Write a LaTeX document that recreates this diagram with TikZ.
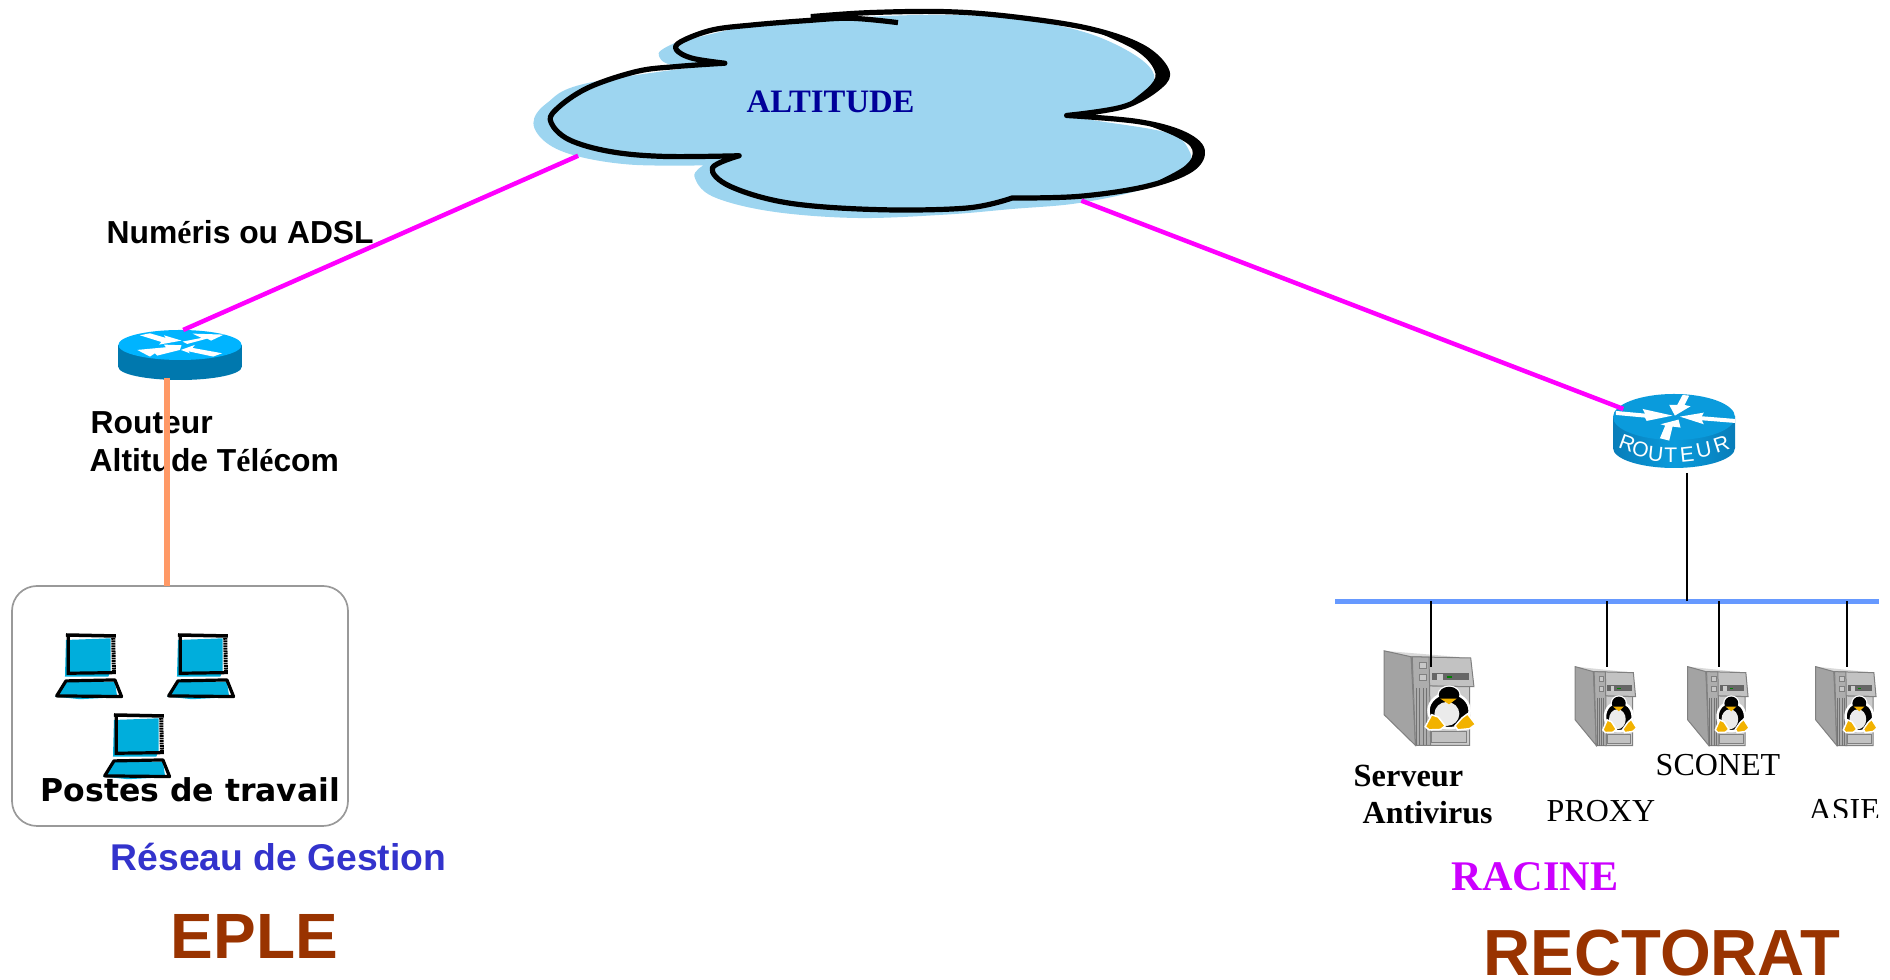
\documentclass[tikz,border=0pt]{standalone}
\usepackage{fontspec}
\setmainfont{Liberation Sans}
\newfontfamily\timesfont{Liberation Serif}
\newfontfamily\dejafont{DejaVu Sans}
\definecolor{cloudblue}{HTML}{9DD5F0}
\definecolor{wanpink}{HTML}{FF00FF}
\definecolor{lanorange}{HTML}{FF9966}
\definecolor{busblue}{HTML}{6699FF}
\definecolor{laptopblue}{HTML}{00AEDC}
\definecolor{siteroux}{HTML}{993300}
\definecolor{gestionblue}{HTML}{3333CC}
\definecolor{racineviolet}{HTML}{CC00FF}
\definecolor{cloudtext}{HTML}{000099}
\definecolor{tuxyellow}{HTML}{F2B200}
\def\serifchar#1{{\timesfont #1}}
\tikzset{
	label/.style={inner sep=0pt, anchor=base west},
	sanslabel/.style={label, font=\bfseries\fontsize{9.05}{11}\selectfont},
	seriflabel/.style={label, font=\timesfont\fontsize{9.1}{11}\selectfont},
	sitelabel/.style={label, text=siteroux},
	wanlink/.style={line width=0.45mm, color=wanpink},
	drop/.style={line width=0.2mm, color=black},
	laptop/.pic={
		\begin{scope}[x=0.003333cm, y=-0.003333cm]
			\fill[laptopblue] (36,18) -- (170,13) -- (170,113) -- (163,128) -- (33,128) -- cycle;
			\fill[laptopblue] (3,188) -- (33,143) -- (183,143) -- (190,190) -- (78,196) -- cycle;
			\draw[line width=0.35mm] (36,3) -- (186,6);
			\draw[line width=0.32mm] (43,6) -- (43,118) -- (186,116);
			\draw[line width=0.4mm, dash pattern=on 0.5pt off 0.2pt] (178,12) -- (180,116);
			\draw[line width=0.32mm, line join=round] (8,186) -- (36,141) -- (183,138) -- (203,188) -- cycle;
		\end{scope}
	},
	serverbox/.pic={
		\begin{scope}[x=0.003635cm, y=-0.003333cm]
			\fill[black!15] (2,2) -- (162,20) -- (52,17) -- cycle;
			\filldraw[fill=black!36, draw=black!50, line width=0.1mm] (2,2) -- (52,17) -- (60,239) -- (2,162) -- cycle;
			\filldraw[fill=black!24, draw=black!50, line width=0.1mm] (52,17) -- (162,20) -- (168,92) -- (56,90) -- cycle;
			\filldraw[fill=black!20, draw=black!50, line width=0.1mm] (85,90) -- (160,92) -- (160,239) -- (85,239) -- cycle;
			\filldraw[fill=black!32, draw=black!50, line width=0.1mm] (54,17) -- (85,18) -- (88,239) -- (60,239) -- cycle;
			\foreach \xx in {62,68,74,80}
				\draw[black!55, line width=0.08mm] (\xx,95) -- (\xx,239);
			\filldraw[fill=black!22, draw=black!50, line width=0.08mm] (68,32) rectangle (80,46);
			\filldraw[fill=black!22, draw=black!50, line width=0.08mm] (68,62) rectangle (80,76);
			\fill[black!60] (90,58) rectangle (158,76);
			\fill[black!20] (100,60) rectangle (110,74);
			\fill[green!50!black] (118,65) rectangle (127,70);
			\draw[black!50, fill=black!24, line width=0.1mm] (90,205) rectangle (155,232);
			% manchot
			\draw[white, fill=black, line width=0.25mm] (122,112) ellipse (19 and 20);
			\draw[white, fill=black, line width=0.25mm] (122,152) ellipse (38 and 44);
			\fill[black] (122,112) ellipse (19 and 20);
			\fill[black] (150,165) -- (160,180) -- (140,195) -- cycle;
			\fill[white!92!black] (118,160) ellipse (23 and 30);
			\fill[tuxyellow] (106,122) -- (136,122) -- (122,136) -- cycle;
			\draw[white, fill=tuxyellow, line width=0.15mm] (78,192) -- (90,162) -- (102,168) -- (115,190) -- (106,199) -- (85,200) -- cycle;
			\draw[white, fill=tuxyellow, line width=0.15mm] (133,190) -- (146,170) -- (156,160) -- (171,186) -- (160,197) -- (138,200) -- cycle;
		\end{scope}
	}
}

\begin{document}
\begin{tikzpicture}[x=0.01cm, y=-0.01cm]
	\useasboundingbox (0,0) rectangle (1890,980);
	%%%%% NUAGE %%%%%
	\begin{scope}[shift={(520,0)}, x=0.004464cm, y=-0.003333cm]
		\fill[cloudblue] plot[smooth, tension=.6] coordinates {(345,130) (310,160) (340,195) (458,190)}
			-- plot[smooth, tension=.6] coordinates {(458,190) (150,250) (60,310) (30,370) (60,430) (130,470) (250,495) (410,497)}
			-- plot[smooth, tension=.6] coordinates {(410,497) (390,530) (430,590) (560,635) (750,655) (950,645) (1100,628) (1250,610) (1400,565) (1490,500) (1495,450) (1450,400) (1300,365) (1222,350)}
			-- plot[smooth, tension=.6] coordinates {(1222,350) (1340,320) (1415,250) (1390,180) (1270,100) (1100,55) (900,45) (650,60) (520,75) (345,130)} -- cycle;
		\draw[line width=0.52mm, line join=round] plot[smooth, tension=.6] coordinates {(845,68) (740,55) (640,62) (520,75) (430,90) (360,125) (350,150) (385,175) (458,190)}
			-- plot[smooth, tension=.6] coordinates {(458,190) (350,200) (260,215) (150,265) (80,330) (70,370) (110,420) (200,455) (320,470) (490,468)}
			-- plot[smooth, tension=.6] coordinates {(490,468) (430,505) (470,560) (600,610) (800,630) (1000,625) (1100,595)}
			-- plot[smooth, tension=.6] coordinates {(1100,595) (1250,590) (1400,560) (1500,510) (1525,450) (1480,400) (1380,365) (1222,347)}
			-- plot[smooth, tension=.6] coordinates {(1222,347) (1350,320) (1430,260) (1445,210) (1390,140) (1270,85) (1100,50) (950,35) (780,38) (650,50)};
		\fill plot[smooth, tension=.6] coordinates {(1270,85) (1390,140) (1445,210) (1430,260) (1350,320)}
			-- plot[smooth, tension=.6] coordinates {(1350,320) (1410,255) (1418,210) (1375,150) (1270,85)} -- cycle;
		\fill plot[smooth, tension=.6] coordinates {(1380,365) (1480,400) (1525,450) (1500,510) (1400,560)}
			-- plot[smooth, tension=.6] coordinates {(1400,560) (1485,500) (1503,450) (1465,410) (1380,365)} -- cycle;
		\coordinate (cloudwest) at (130,468);
		\coordinate (cloudeast) at (1255,603);
	\end{scope}
	\node[label, text=cloudtext, font=\timesfont\bfseries\fontsize{9.3}{10}\selectfont] (altitude) at (746,113) {ALTITUDE};

	%%%%% ROUTEUR EPLE %%%%%
	\fill[color={rgb,255:red,0;green,120;blue,174}] (180,367) ellipse (61.7 and 13);
	\fill[color={rgb,255:red,0;green,120;blue,174}] (118.3,345) rectangle (241.7,367);
	\fill[color={rgb,255:red,0;green,180;blue,255}] (180,345) ellipse (61.7 and 15);
	\begin{scope}[shift={(100,310)}, x=0.003333cm, y=-0.003333cm]
		\fill[white] (120,76) -- (150,70) -- (198,84) -- (192,76) -- (245,92) -- (178,104) -- (184,96) -- cycle;
		\fill[white] (248,95) -- (305,84) -- (278,71) -- (372,74) -- (334,92) -- (322,86) -- (262,102) -- cycle;
		\fill[white] (245,106) -- (192,104) -- (198,112) -- (112,120) -- (150,140) -- (165,130) -- (172,137) -- (240,120) -- cycle;
		\fill[white] (243,120) -- (285,105) -- (278,114) -- (367,130) -- (340,140) -- (265,124) -- (270,130) -- cycle;
		\coordinate (rtepletop) at (250,60);
	\end{scope}
	\coordinate (rteplebas) at (167,378);

	%%%%% ROUTEUR RECTORAT %%%%%
	\shade[left color={rgb,255:red,8;green,125;blue,185}, right color={rgb,255:red,8;green,125;blue,185}, middle color={rgb,255:red,10;green,155;blue,220}] (1613,417) rectangle (1735,448);
	\shade[left color={rgb,255:red,8;green,125;blue,185}, right color={rgb,255:red,8;green,125;blue,185}, middle color={rgb,255:red,10;green,155;blue,220}] (1674,448) ellipse (61 and 20);
	\fill[color={rgb,255:red,10;green,155;blue,220}] (1674,417) ellipse (61 and 23);
	\begin{scope}[shift={(1600,385)}, x=0.003333cm, y=-0.003333cm]
		\fill[white] (48,78) -- (135,86) -- (128,72) -- (218,92) -- (140,108) -- (135,98) -- (48,90) -- cycle;
		\fill[white] (248,30) -- (268,32) -- (254,60) -- (272,64) -- (225,92) -- (208,60) -- (232,60) -- cycle;
		\fill[white] (240,95) -- (312,83) -- (306,94) -- (405,102) -- (405,114) -- (306,106) -- (312,118) -- cycle;
		\fill[white] (236,104) -- (242,128) -- (218,125) -- (208,167) -- (180,160) -- (196,122) -- (182,118) -- cycle;
		\foreach \ltr/\xx/\yy/\rot [count=\i] in {R/82/176/-20, O/122/193/-14, U/167/207/-6, T/213/212/0, E/262/209/6, U/312/196/12, R/365/178/18}
			\node[inner sep=0pt, rotate=\rot, text=white, font=\fontsize{6}{6}\selectfont] (rtletter\i) at (\xx,\yy) {\ltr};
		\coordinate (rtrectop) at (70,72);
	\end{scope}
	\coordinate (rtrecbas) at (1687,473);

	%%%%% LIAISONS %%%%%
	\draw[wanlink] (cloudwest) -- (rtepletop);
	\draw[wanlink] (cloudeast) -- (rtrectop);

	%%%%% EPLE %%%%%
	\node[sanslabel] (numeris) at (106,244) {Num\serifchar{é}ris ou ADSL};
	\node[sanslabel] (routeur) at (90,434) {Routeur};
	\node[sanslabel] (altitel) at (89,472) {Altitude T\serifchar{é}l\serifchar{é}com};

	\draw[line width=0.17mm, color=black!40, rounded corners=0.25cm] (12,586) rectangle (348,826);
	\coordinate (boxtop) at (167,586);
	\draw[line width=0.6mm, color=lanorange] (rteplebas) -- (boxtop);

	\pic at (54,634) {laptop};
	\pic at (166,634) {laptop};
	\pic at (102,714) {laptop};

	\node[label, font=\dejafont\bfseries\fontsize{8.95}{11}\selectfont] (postes) at (40,802) {Postes de travail};
	\node[label, text=gestionblue, font=\bfseries\fontsize{10.6}{12}\selectfont] (gestion) at (110,871) {Réseau de Gestion};
	\node[sitelabel, font=\bfseries\fontsize{18.2}{20}\selectfont] (eple) at (170,959) {EPLE};

	%%%%% RECTORAT %%%%%
	\coordinate (busw) at (1335,601.5);
	\coordinate (buse) at (1879,601.5);
	\draw[line width=0.58mm, color=busblue] (busw) -- (buse);

	\pic[xscale=1.49, yscale=1.2] at (1383,650) {serverbox};
	\pic at (1574.5,666) {serverbox};
	\pic at (1687,666) {serverbox};
	\pic at (1815,666) {serverbox};

	\coordinate (srvav) at (1431,667);
	\coordinate (srvproxy) at (1607,667);
	\coordinate (srvsconet) at (1719,667);
	\coordinate (srvasie) at (1847,667);
	\foreach \srv in {srvav,srvproxy,srvsconet,srvasie}
		\draw[drop] (\srv) -- (\srv |- busw);
	\draw[drop] (rtrecbas) -- (rtrecbas |- busw);

	\node[seriflabel, font=\timesfont\bfseries\fontsize{9.2}{11}\selectfont] (serveur) at (1353,787) {Serveur};
	\node[seriflabel, font=\timesfont\bfseries\fontsize{9.1}{11}\selectfont] (antivirus) at (1362,824) {Antivirus};
	\node[seriflabel] (proxy) at (1546,822) {PROXY};
	\node[seriflabel] (sconet) at (1655,776) {SCONET};
	\begin{scope}
		\clip (1800,790) rectangle (1878,818);
		\node[seriflabel] (asie) at (1808,821) {ASIE};
	\end{scope}
	\node[label, text=racineviolet, font=\timesfont\bfseries\fontsize{12}{14}\selectfont] (racine) at (1451,891) {RACINE};
	\node[sitelabel, font=\bfseries\fontsize{18.55}{20}\selectfont] (rectorat) at (1483,976) {RECTORAT};
\end{tikzpicture}
\end{document}
